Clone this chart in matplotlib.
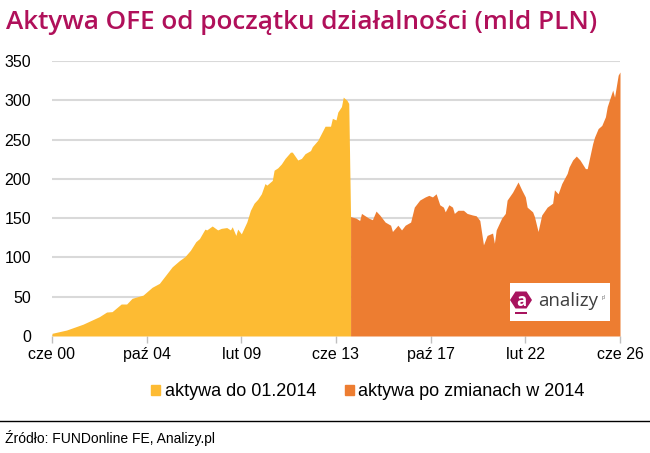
import matplotlib
matplotlib.use("Agg")
import matplotlib.pyplot as plt
from matplotlib.patches import Patch, Polygon, Rectangle
from matplotlib.transforms import IdentityTransform

# ---- data ----
dates_before = ["2000-06","2001-02","2001-11","2002-08","2002-12","2003-03","2003-08","2003-11",
                "2004-02","2004-08","2005-01","2005-05","2005-09","2005-12","2006-04","2006-07",
                "2006-10","2007-01","2007-03","2007-06","2007-07","2007-10","2008-01","2008-03",
                "2008-06","2008-08","2008-09","2008-11","2008-12","2009-02","2009-05","2009-07",
                "2009-09","2009-11","2010-01","2010-03","2010-04","2010-07","2010-08","2010-10",
                "2010-12","2011-02","2011-05","2011-06","2011-09","2011-11","2012-01","2012-04",
                "2012-05","2012-08","2012-10","2012-12","2013-03","2013-04","2013-06","2013-07",
                "2013-09","2013-10","2013-12","2014-01"]
values_before = [3.4,7.6,15,24.6,30.5,31,40.7,40.7,
                 48,52,62,67,79,88,96,101,
                 109,120,124,136,135,140,135,137,
                 138,135,139,128,136,130,145,160,
                 169,174,181,194,192,198,211,214,
                 219,226,234,234,224,226,232,236,
                 241,249,258,267,267,277,275,285,
                 292,304,300,296]

dates_after = ["2014-02","2014-05","2014-07","2014-08","2014-12","2015-02","2015-04","2015-06",
               "2015-09","2015-12","2016-01","2016-04","2016-06","2016-08","2016-11","2017-01",
               "2017-04","2017-07","2017-09","2017-11","2018-01","2018-03","2018-05","2018-06",
               "2018-08","2018-10","2018-11","2019-01","2019-04","2019-06","2019-09","2019-11",
               "2020-01","2020-03","2020-05","2020-08","2020-09","2020-10","2021-01","2021-03",
               "2021-04","2021-07","2021-10","2021-12","2022-02","2022-03","2022-06","2022-07",
               "2022-09","2022-11","2023-02","2023-05","2023-06","2023-08","2023-10","2024-01",
               "2024-02","2024-04","2024-06","2024-08","2024-11","2024-12","2025-03","2025-04",
               "2025-06","2025-08","2025-10","2025-11","2026-02","2026-03","2026-05","2026-06"]
values_after = [152,150,147,156,150,148,159,154,
                145,141,133,141,135,141,145,164,
                173,177,179,177,181,167,164,158,
                167,164,156,160,160,156,154,153,
                147,116,128,131,118,135,150,156,
                173,183,196,186,177,164,158,152,
                133,154,164,169,186,181,194,207,
                215,224,229,224,213,213,245,253,
                264,268,279,292,313,304,332,336]

tick_dates = ["2000-06","2004-10","2009-02","2013-06","2017-10","2022-02","2026-06"]
tick_labels = ["cze 00","paź 04","lut 09","cze 13","paź 17","lut 22","cze 26"]
y_ticks = [0,50,100,150,200,250,300,350]

series_names = ["aktywa do 01.2014", "aktywa po zmianach w 2014"]
title = "Aktywa OFE od początku działalności (mld PLN)"
source = "Źródło: FUNDonline FE, Analizy.pl"

def mi(d):
    y, m = map(int, d.split("-"))
    return (y - 2000) * 12 + (m - 6)

xb = [mi(d) for d in dates_before]
xa = [mi(d) for d in dates_after]
xt = [mi(d) for d in tick_dates]

YELLOW = "#FDBB33"
ORANGE = "#ED7D31"
TITLE_C = "#B0105A"
LOGO_C = "#A8145F"

W, H = 650, 453
plt.rcParams['font.family'] = ['Liberation Sans', 'DejaVu Sans']

fig = plt.figure(figsize=(6.5, 4.53), dpi=100)
ax = fig.add_axes([52/W, 1-336/H, 568/W, 275/H])

ax.fill_between(xb + [xa[0]], values_before + [values_after[0]], 0, color=YELLOW, lw=0, zorder=2)
ax.fill_between(xa, values_after, 0, color=ORANGE, lw=0, zorder=3)

ax.set_xlim(xt[0], xt[-1])
ax.set_ylim(0, 350)
ax.set_yticks(y_ticks)
ax.set_xticks(xt)
ax.set_xticklabels(tick_labels)
ax.grid(axis='y', color='#D9D9D9', lw=1.5)
ax.set_axisbelow(True)
for s in ax.spines.values():
    s.set_visible(False)
ax.tick_params(axis='y', length=0, pad=15, labelsize=11.5, labelcolor='black')
ax.tick_params(axis='x', length=5, width=1, color='#BFBFBF', pad=3, labelsize=11.5)

fig.text(6/W, 1-28.7/H, title, color=TITLE_C, fontsize=18.8, family=['Open Sans', 'DejaVu Sans'],
         weight='semibold', va='baseline', ha='left')

handles = [Patch(color=YELLOW), Patch(color=ORANGE)]
fig.legend(handles, series_names, loc='center', bbox_to_anchor=(368/W, 1-392/H), ncol=2,
           frameon=False, fontsize=13, handlelength=0.5, handleheight=0.5, handletextpad=0.25,
           columnspacing=1.6, borderpad=0, borderaxespad=0)

fig.add_artist(plt.Line2D([0, 1], [1-421/H, 1-421/H], color='black', lw=1, transform=fig.transFigure))
fig.text(5/W, 1-438/H, source, fontsize=10, va='center', ha='left')

# logo (pixel coordinates, origin bottom-left)
pix = IdentityTransform()
fig.patches.append(Rectangle((510, H-321), 100, 38, transform=pix,
                             facecolor='white', edgecolor='none', zorder=5))
cx, cy = 521, H-300
hexagon = Polygon([(cx-11, cy), (cx-5.5, cy+8.5), (cx+5.5, cy+8.5), (cx+11, cy),
                   (cx+5.5, cy-8.5), (cx-5.5, cy-8.5)], closed=True, transform=pix,
                  facecolor=LOGO_C, edgecolor='none', zorder=6)
fig.patches.append(hexagon)
fig.patches.append(Rectangle((cx-6, H-314), 12, 2.5, transform=pix,
                             facecolor=LOGO_C, edgecolor='none', zorder=6))
fig.text(cx/W, 1-300.5/H, "a", color='white', fontsize=12, ha='center', va='center',
         family=['Open Sans', 'DejaVu Sans'], weight='bold', zorder=7)
fig.text(538/W, 1-305.5/H, "analizy", color='#3F3F3F', fontsize=13.5, ha='left', va='baseline',
         family=['Open Sans', 'DejaVu Sans'], zorder=7)
fig.text(602/W, 1-297/H, "pl", color='#666666', fontsize=3.5, ha='left', va='center', zorder=7)

fig.savefig("out.png", dpi=100)
